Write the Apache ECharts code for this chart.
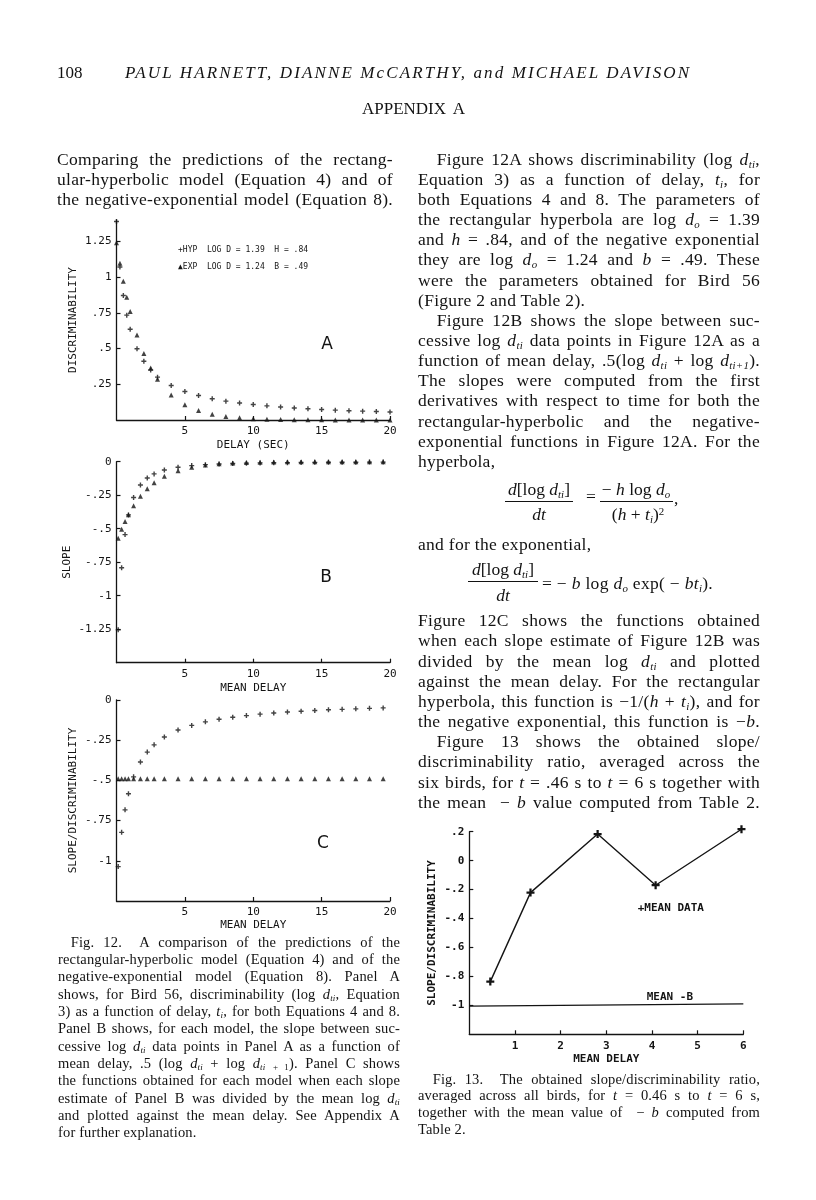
<!DOCTYPE html>
<html>
<head>
<meta charset="utf-8">
<script src="https://cdn.jsdelivr.net/npm/echarts@6/dist/echarts.min.js"></script>
<style>
html, body { margin: 0; padding: 0; background: #fff; }
#page { position: relative; width: 816px; height: 1200px; overflow: hidden; font-family: "Liberation Serif", serif; color: #121212; }
#chart { position: absolute; left: 0; top: 0; width: 816px; height: 1200px; }
.ln { position: absolute; white-space: nowrap; line-height: 1.2; }
.ln span { white-space: nowrap; display: inline-block; }
sub { font-size: 0.62em; vertical-align: -0.25em; line-height: 0; }
sup { font-size: 0.62em; vertical-align: 0.45em; line-height: 0; }
.bar { position: absolute; height: 1px; background: #121212; }
</style>
</head>
<body>
<div id="page">
  <div id="chart"></div>
</div>
<script>
// ---- Fig. 12A : discriminability vs delay ----
const delayA = [0, 0.25, 0.5, 0.75, 1, 1.5, 2, 2.5, 3, 4, 5, 6, 7, 8, 9, 10, 11, 12, 13, 14, 15, 16, 17, 18, 19, 20];
const hypA = [1.39, 1.071, 0.871, 0.734, 0.635, 0.499, 0.411, 0.35, 0.3, 0.241, 0.2, 0.171, 0.149, 0.132, 0.119, 0.108, 0.099, 0.091, 0.084, 0.079, 0.074, 0.069, 0.065, 0.062, 0.059, 0.056];
const expA = [1.24, 1.097, 0.971, 0.859, 0.76, 0.595, 0.465, 0.364, 0.285, 0.175, 0.107, 0.066, 0.04, 0.025, 0.015, 0.009, 0.006, 0.004, 0.002, 0.001, 0.001, 0, 0, 0, 0, 0];

// ---- Fig. 12B : slope vs mean delay ----
const meanDelay = [0.125, 0.375, 0.625, 0.875, 1.25, 1.75, 2.25, 2.75, 3.5, 4.5, 5.5, 6.5, 7.5, 8.5, 9.5, 10.5, 11.5, 12.5, 13.5, 14.5, 15.5, 16.5, 17.5, 18.5, 19.5];
const hypB = [-1.254, -0.791, -0.544, -0.397, -0.267, -0.174, -0.122, -0.091, -0.062, -0.041, -0.029, -0.022, -0.017, -0.013, -0.011, -0.009, -0.008, -0.007, -0.006, -0.005, -0.004, -0.004, -0.004, -0.003, -0.003];
const expB = [-0.572, -0.505, -0.447, -0.396, -0.329, -0.257, -0.201, -0.158, -0.109, -0.067, -0.041, -0.025, -0.015, -0.009, -0.006, -0.004, -0.002, -0.001, -0.001, -0.001, 0, 0, 0, 0, 0];

// ---- Fig. 12C : slope / discriminability vs mean delay ----
const hypC = [-1.036, -0.823, -0.683, -0.583, -0.478, -0.386, -0.324, -0.279, -0.23, -0.187, -0.158, -0.136, -0.12, -0.107, -0.097, -0.088, -0.081, -0.075, -0.07, -0.065, -0.061, -0.058, -0.055, -0.052, -0.049];
const expC = [-0.49, -0.49, -0.49, -0.49, -0.49, -0.49, -0.49, -0.49, -0.49, -0.49, -0.49, -0.49, -0.49, -0.49, -0.49, -0.49, -0.49, -0.49, -0.49, -0.49, -0.49, -0.49, -0.49, -0.49, -0.49];

// ---- Fig. 13 ----
const delay13 = [0.46, 1.34, 2.81, 4.08, 5.96];
const ratio13 = [-0.836, -0.221, 0.184, -0.17, 0.217];
const meanBx = [0, 6];
const meanBy = [-1.005, -0.99];

// tick values and their printed labels
const xTicks20 = [5, 10, 15, 20];
const xLabels20 = ['5', '10', '15', '20'];
const yTicksA = [0.25, 0.5, 0.75, 1, 1.25];
const yLabelsA = ['.25', '.5', '.75', '1', '1.25'];
const yTicksB = [0, -0.25, -0.5, -0.75, -1, -1.25];
const yLabelsB = ['0', '-.25', '-.5', '-.75', '-1', '-1.25'];
const yTicksC = [0, -0.25, -0.5, -0.75, -1];
const yLabelsC = ['0', '-.25', '-.5', '-.75', '-1'];
const xTicks13 = [1, 2, 3, 4, 5, 6];
const xLabels13 = ['1', '2', '3', '4', '5', '6'];
const yTicks13 = [0.2, 0, -0.2, -0.4, -0.6, -0.8, -1];
const yLabels13 = ['.2', '0', '-.2', '-.4', '-.6', '-.8', '-1'];

const page = document.getElementById('page');

// one line of typeset text, stretched to the column width
function line(html, x, y, w, size, mode, ls) {
  const d = document.createElement('div');
  d.className = 'ln';
  d.style.left = x + 'px';
  d.style.top = (y - size * 0.65) + 'px';
  d.style.fontSize = size + 'px';
  const s = document.createElement('span');
  s.innerHTML = html;
  if (ls) s.style.letterSpacing = ls + 'px';
  d.appendChild(s);
  page.appendChild(d);
  if (!w) return d;
  const nat = s.getBoundingClientRect().width;
  if (mode === 'letter') {
    s.style.letterSpacing = ((w - nat) / (s.textContent.length - 1)) + 'px';
  } else if (mode === 'justify' && nat < w) {
    const n = (s.textContent.match(/[ \u00a0]/g) || []).length;
    if (n) s.style.wordSpacing = ((w - nat) / n) + 'px';
  }
  if (nat > w) {
    s.style.transform = 'scaleX(' + (w / nat) + ')';
    s.style.transformOrigin = '0 0';
  }
  return d;
}
function centered(html, cx, y, size) {
  const d = line(html, 0, y, 0, size);
  const w = d.getBoundingClientRect().width;
  d.style.left = (cx - w / 2) + 'px';
}
function bar(x1, x2, y) {
  const b = document.createElement('div');
  b.className = 'bar';
  b.style.left = x1 + 'px';
  b.style.top = y + 'px';
  b.style.width = (x2 - x1) + 'px';
  page.appendChild(b);
}

const BODY = 17.5, BODY_LS = 0.3;
const CAP = 14.5, CAP_LS = 0.15;
const dti = '<i>d<sub>ti</sub></i>';
const d0 = '<i>d<sub>o</sub></i>';
const ti = '<i>t<sub>i</sub></i>';

// header
line('108', 57, 74, 0, 17);
line('<i>PAUL HARNETT, DIANNE McCARTHY, and MICHAEL DAVISON</i>', 125, 74, 564, 17, 'letter');
line('APPENDIX A', 362, 110, 103, 17, 'justify');

// left column
const leftLines = [
  'Comparing the predictions of the rectang-',
  'ular-hyperbolic model (Equation 4) and of',
  'the negative-exponential model (Equation 8).'
];
leftLines.forEach((t, i) => line(t, 57, 160 + i * 20.15, 336, BODY, 'justify', BODY_LS));

// right column, first block  [text, indent, justify]
const rightLines1 = [
  ['Figure 12A shows discriminability (log ' + dti + ',', 1, 1],
  ['Equation 3) as a function of delay, ' + ti + ', for', 0, 1],
  ['both Equations 4 and 8. The parameters of', 0, 1],
  ['the rectangular hyperbola are log ' + d0 + ' = 1.39', 0, 1],
  ['and <i>h</i> = .84, and of the negative exponential', 0, 1],
  ['they are log ' + d0 + ' = 1.24 and <i>b</i> = .49. These', 0, 1],
  ['were the parameters obtained for Bird 56', 0, 1],
  ['(Figure 2 and Table 2).', 0, 0],
  ['Figure 12B shows the slope between suc-', 1, 1],
  ['cessive log ' + dti + ' data points in Figure 12A as a', 0, 1],
  ['function of mean delay, .5(log ' + dti + ' + log <i>d<sub>ti+1</sub></i>).', 0, 1],
  ['The slopes were computed from the first', 0, 1],
  ['derivatives with respect to time for both the', 0, 1],
  ['rectangular-hyperbolic and the negative-', 0, 1],
  ['exponential functions in Figure 12A. For the', 0, 1],
  ['hyperbola,', 0, 0]
];
rightLines1.forEach((l, i) => {
  const x = l[1] ? 436.7 : 418;
  line(l[0], x, 160 + i * 20.15, 760 - x, BODY, l[2] ? 'justify' : null, BODY_LS);
});

// formulas
centered('<i>d</i>[log ' + dti + ']', 539, 490, BODY);
bar(505, 573, 501);
centered('<i>dt</i>', 539, 515, BODY);
centered('=', 591, 497, BODY);
centered('− <i>h</i> log ' + d0, 636, 490, BODY);
bar(600, 673, 501);
centered('(<i>h</i> + ' + ti + ')<sup>2</sup>', 638, 515, BODY);
line(',', 674, 499, 0, BODY);
line('and for the exponential,', 418, 545, 0, BODY, null, BODY_LS);
centered('<i>d</i>[log ' + dti + ']', 503, 570, BODY);
bar(468, 538, 581);
centered('<i>dt</i>', 503, 596, BODY);
line('= − <i>b</i> log ' + d0 + ' exp( − <i>bt<sub>i</sub></i>).', 542, 584, 0, BODY, null, BODY_LS);

// right column, second block
const rightLines2 = [
  ['Figure 12C shows the functions obtained', 0, 1],
  ['when each slope estimate of Figure 12B was', 0, 1],
  ['divided by the mean log ' + dti + ' and plotted', 0, 1],
  ['against the mean delay. For the rectangular', 0, 1],
  ['hyperbola, this function is −1/(<i>h</i> + ' + ti + '), and for', 0, 1],
  ['the negative exponential, this function is −<i>b</i>.', 0, 1],
  ['Figure 13 shows the obtained slope/', 1, 1],
  ['discriminability ratio, averaged across the', 0, 1],
  ['six birds, for <i>t</i> = .46 s to <i>t</i> = 6 s together with', 0, 1],
  ['the mean &nbsp;− <i>b</i> value computed from Table 2.', 0, 1]
];
rightLines2.forEach((l, i) => {
  const x = l[1] ? 436.7 : 418;
  line(l[0], x, 621.7 + i * 20.15, 760 - x, BODY, l[2] ? 'justify' : null, BODY_LS);
});

// captions
const cap12 = [
  ['Fig. 12.&nbsp; A comparison of the predictions of the', 1, 1],
  ['rectangular-hyperbolic model (Equation 4) and of the', 0, 1],
  ['negative-exponential model (Equation 8). Panel A', 0, 1],
  ['shows, for Bird 56, discriminability (log ' + dti + ', Equation', 0, 1],
  ['3) as a function of delay, ' + ti + ', for both Equations 4 and 8.', 0, 1],
  ['Panel B shows, for each model, the slope between suc-', 0, 1],
  ['cessive log ' + dti + ' data points in Panel A as a function of', 0, 1],
  ['mean delay, .5 (log ' + dti + ' + log ' + dti + ' <sub>+ 1</sub>). Panel C shows', 0, 1],
  ['the functions obtained for each model when each slope', 0, 1],
  ['estimate of Panel B was divided by the mean log ' + dti, 0, 1],
  ['and plotted against the mean delay. See Appendix A', 0, 1],
  ['for further explanation.', 0, 0]
];
cap12.forEach((l, i) => {
  const x = l[1] ? 70.7 : 58;
  line(l[0], x, 943.3 + i * 17.3, 400 - x, CAP, l[2] ? 'justify' : null, CAP_LS);
});
const cap13 = [
  ['Fig. 13.&nbsp; The obtained slope/discriminability ratio,', 1, 1],
  ['averaged across all birds, for <i>t</i> = 0.46 s to <i>t</i> = 6 s,', 0, 1],
  ['together with the mean value of &nbsp;− <i>b</i> computed from', 0, 1],
  ['Table 2.', 0, 0]
];
cap13.forEach((l, i) => {
  const x = l[1] ? 432.7 : 418;
  line(l[0], x, 1080 + i * 16.7, 760 - x, CAP, l[2] ? 'justify' : null, CAP_LS);
});

// ---------------- charts ----------------
const INK = '#141414';
const MONO = 'DejaVu Sans Mono';
// small plus sign, drawn filled so it stays crisp at 5px
const PLUS = 'path://M1.8,0H3.2V1.8H5V3.2H3.2V5H1.8V3.2H0V1.8H1.8Z';

function zip(xs, ys) {
  return xs.map((x, i) => [x, ys[i]]);
}
function pick(ticks, labels) {
  return v => {
    const i = ticks.findIndex(t => Math.abs(t - v) < 1e-9);
    return i < 0 ? '' : labels[i];
  };
}
function xAxis(gi, max, ticks, labels, name, nameGap, bold) {
  return {
    gridIndex: gi, type: 'value', min: 0, max: max,
    axisLine: { show: true, onZero: false, lineStyle: { color: INK, width: 1.3 } },
    axisTick: { show: true, inside: true, length: 4, customValues: ticks, lineStyle: { color: INK, width: 1.2 } },
    axisLabel: { show: true, customValues: ticks, formatter: pick(ticks, labels), margin: 6, color: INK, fontFamily: MONO, fontSize: 11, fontWeight: bold ? 'bold' : 'normal' },
    splitLine: { show: false },
    name: name, nameLocation: 'middle', nameGap: nameGap,
    nameTextStyle: { color: INK, fontFamily: MONO, fontSize: 11, fontWeight: bold ? 'bold' : 'normal' }
  };
}
function yAxis(gi, min, max, ticks, labels, name, nameGap, bold) {
  return {
    gridIndex: gi, type: 'value', min: min, max: max,
    axisLine: { show: true, onZero: false, lineStyle: { color: INK, width: 1.3 } },
    axisTick: { show: true, inside: true, length: 4, customValues: ticks, lineStyle: { color: INK, width: 1.2 } },
    axisLabel: { show: true, customValues: ticks, formatter: pick(ticks, labels), margin: 5, color: INK, fontFamily: MONO, fontSize: 11, fontWeight: bold ? 'bold' : 'normal' },
    splitLine: { show: false },
    name: name, nameLocation: 'middle', nameGap: nameGap, nameRotate: 90,
    nameTextStyle: { color: INK, fontFamily: MONO, fontSize: 11, fontWeight: bold ? 'bold' : 'normal' }
  };
}
function dots(gi, data, symbol, size) {
  return {
    type: 'scatter', xAxisIndex: gi, yAxisIndex: gi, data: data,
    symbol: symbol, symbolSize: size, clip: false, silent: true,
    itemStyle: { color: INK }
  };
}
function label(text, x, y, size, opts) {
  return {
    type: 'text', x: x, y: y, silent: true,
    style: Object.assign({ text: text, fill: INK, fontFamily: MONO, fontSize: size, align: 'left', verticalAlign: 'middle' }, opts || {})
  };
}

const myChart = echarts.init(document.getElementById('chart'));
const option = {
  animation: false,
  grid: [
    { left: 116.5, top: 220, width: 273.5, height: 200 },
    { left: 116.5, top: 461.7, width: 273.5, height: 201 },
    { left: 116.5, top: 700, width: 273.5, height: 201 },
    { left: 469.3, top: 831.7, width: 274, height: 202.6 }
  ],
  xAxis: [
    xAxis(0, 20, xTicks20, xLabels20, 'DELAY (SEC)', 20),
    xAxis(1, 20, xTicks20, xLabels20, 'MEAN DELAY', 20),
    xAxis(2, 20, xTicks20, xLabels20, 'MEAN DELAY', 19),
    xAxis(3, 6, xTicks13, xLabels13, 'MEAN DELAY', 19, true)
  ],
  yAxis: [
    yAxis(0, 0, 1.4, yTicksA, yLabelsA, 'DISCRIMINABILITY', 38),
    yAxis(1, -1.5, 0, yTicksB, yLabelsB, 'SLOPE', 44),
    yAxis(2, -1.25, 0, yTicksC, yLabelsC, 'SLOPE/DISCRIMINABILITY', 38),
    yAxis(3, -1.2, 0.2, yTicks13, yLabels13, 'SLOPE/DISCRIMINABILITY', 32, true)
  ],
  series: [
    dots(0, zip(delayA, hypA), PLUS, 5),
    dots(0, zip(delayA, expA), 'triangle', 5),
    dots(1, zip(meanDelay, hypB), PLUS, 5),
    dots(1, zip(meanDelay, expB), 'triangle', 5),
    dots(2, zip(meanDelay, hypC), PLUS, 5),
    dots(2, zip(meanDelay, expC), 'triangle', 5),
    {
      type: 'line', xAxisIndex: 3, yAxisIndex: 3, data: zip(delay13, ratio13),
      symbol: PLUS, symbolSize: 8, showSymbol: true, clip: false, silent: true,
      lineStyle: { color: INK, width: 1.4 }, itemStyle: { color: INK }
    },
    {
      type: 'line', xAxisIndex: 3, yAxisIndex: 3, data: zip(meanBx, meanBy),
      symbol: 'none', clip: false, silent: true,
      lineStyle: { color: INK, width: 1.4 }
    }
  ],
  graphic: [
    label('+HYP  LOG D = 1.39  H = .84', 178, 250, 8),
    label('\u25B2EXP  LOG D = 1.24  B = .49', 178, 267, 8),
    label('A', 327, 345, 17, { fontFamily: 'DejaVu Sans', align: 'center' }),
    label('B', 326, 578, 17, { fontFamily: 'DejaVu Sans', align: 'center' }),
    label('C', 323, 844, 17, { fontFamily: 'DejaVu Sans', align: 'center' }),
    label('+MEAN DATA', 637.7, 908, 11, { fontWeight: 'bold' }),
    label('MEAN -B', 646.7, 996.7, 11, { fontWeight: 'bold' })
  ]
};
myChart.setOption(option);
</script>
</body>
</html>
